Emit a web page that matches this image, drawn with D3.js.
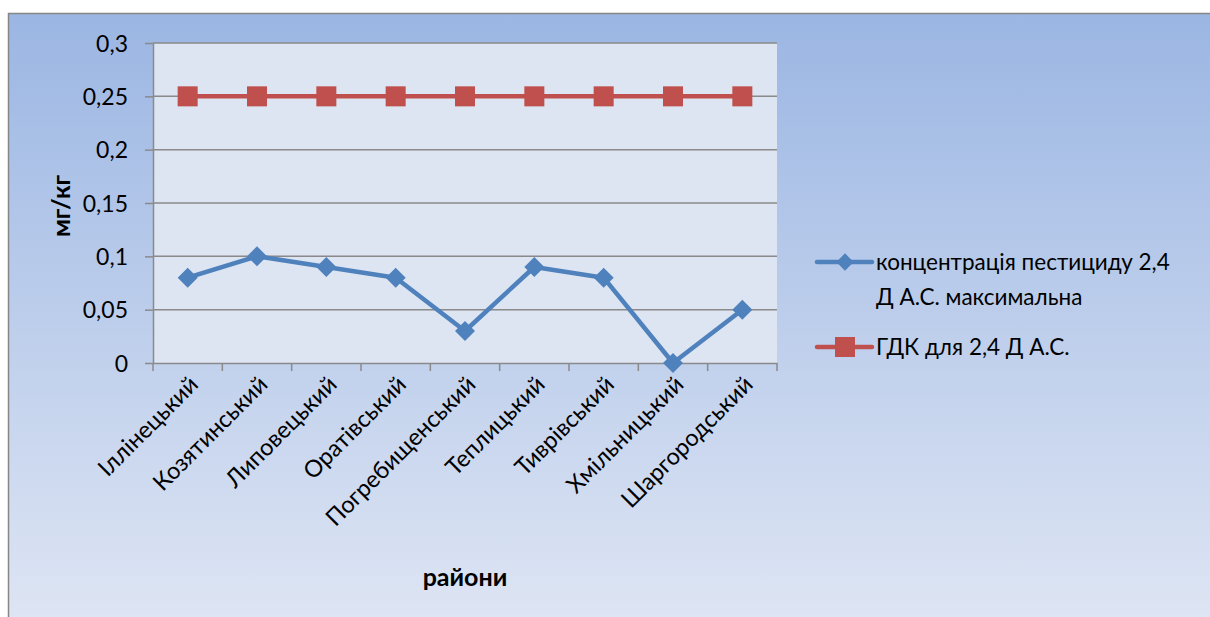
<!DOCTYPE html>
<html>
<head>
<meta charset="utf-8">
<script src="https://cdn.jsdelivr.net/npm/d3@7"></script>
<style>
  html, body { margin: 0; padding: 0; background: #ffffff; }
  svg { display: block; }
  text { font-family: Lato, "Open Sans", "Liberation Sans", sans-serif; fill: #000; }
</style>
</head>
<body>
<svg id="chart" width="1210" height="617"></svg>
<script>
// Districts along the x axis
const districts = ["Іллінецький", "Козятинський", "Липовецький", "Оратівський",
  "Погребищенський", "Теплицький", "Тиврівський", "Хмільницький", "Шаргородський"];
// Maximum concentration of 2,4-D, mg/kg
const concentration = [0.08, 0.1, 0.09, 0.08, 0.03, 0.09, 0.08, 0, 0.05];
// Maximum permissible concentration for 2,4-D, mg/kg
const limitValues = [0.25, 0.25, 0.25, 0.25, 0.25, 0.25, 0.25, 0.25, 0.25];
const yTicks = [0, 0.05, 0.1, 0.15, 0.2, 0.25, 0.3];
const seriesNames = ["концентрація пестициду 2,4", "Д А.С. максимальна", "ГДК для 2,4 Д А.С."];

const svg = d3.select("#chart");
const W = 1210, H = 617;
const FONT = "Lato, 'Open Sans', sans-serif";

// Background gradient of the chart area
const defs = svg.append("defs");
const grad = defs.append("linearGradient").attr("id", "bg")
  .attr("x1", 0).attr("y1", 0).attr("x2", 0).attr("y2", 1);
grad.append("stop").attr("offset", "0%").attr("stop-color", "#9bb6e3");
grad.append("stop").attr("offset", "100%").attr("stop-color", "#dfe6f4");

svg.append("rect").attr("x", 8.5).attr("y", 13.5).attr("width", W).attr("height", H)
  .attr("fill", "url(#bg)").attr("stroke", "#868686").attr("stroke-width", 1.5);

const plot = { left: 153, right: 777, top: 43, bottom: 363 };

const x = d3.scaleBand().domain(districts).range([plot.left, plot.right]).padding(0);
const y = d3.scaleLinear().domain([0, 0.3]).range([plot.bottom, plot.top]);
const cx = d => x(d) + x.bandwidth() / 2;

// Plot area
svg.append("rect").attr("x", plot.left).attr("y", plot.top)
  .attr("width", plot.right - plot.left).attr("height", plot.bottom - plot.top)
  .attr("fill", "#dce5f1");

// Horizontal gridlines
svg.append("g").selectAll("line").data(yTicks.filter(t => t > 0)).join("line")
  .attr("x1", plot.left).attr("x2", plot.right)
  .attr("y1", d => y(d)).attr("y2", d => y(d))
  .attr("stroke", "#8a8a8a").attr("stroke-width", 1.5);

// Y axis
const fmt = d => String(+d.toFixed(2)).replace(".", ",");
const yAxis = svg.append("g").attr("transform", `translate(${plot.left},0)`)
  .call(d3.axisLeft(y).tickValues(yTicks).tickFormat(fmt).tickSize(8).tickSizeOuter(0));
yAxis.select(".domain").attr("stroke", "#8a8a8a").attr("stroke-width", 1.5);
yAxis.selectAll(".tick line").attr("stroke", "#8a8a8a").attr("stroke-width", 1.5);
yAxis.selectAll(".tick text").attr("x", -25).attr("dy", "0.36em").attr("font-size", 23)
  .attr("font-family", FONT).attr("fill", "#000");

// X axis
const xAxis = svg.append("g").attr("transform", `translate(0,${plot.bottom})`)
  .call(d3.axisBottom(x).tickSize(0).tickSizeOuter(0));
xAxis.select(".domain").attr("stroke", "#8a8a8a").attr("stroke-width", 1.5);
xAxis.selectAll(".tick line").remove();
// Category boundary ticks
svg.append("g").selectAll("line")
  .data(districts.concat([null])).join("line")
  .attr("x1", (d, i) => plot.left + i * x.bandwidth())
  .attr("x2", (d, i) => plot.left + i * x.bandwidth())
  .attr("y1", plot.bottom).attr("y2", plot.bottom + 8)
  .attr("stroke", "#8a8a8a").attr("stroke-width", 1.5);
xAxis.selectAll(".tick text")
  .attr("font-size", 23.5).attr("font-family", FONT).attr("fill", "#000")
  .attr("text-anchor", "end").attr("dy", 0).attr("y", 0)
  .attr("transform", "translate(12,23) rotate(-45)");

// Axis titles
svg.append("text").attr("transform", "translate(70,206) rotate(-90)")
  .attr("text-anchor", "middle").attr("font-weight", "bold").attr("font-size", 25)
  .text("мг/кг");
svg.append("text").attr("x", 465).attr("y", 586)
  .attr("text-anchor", "middle").attr("font-weight", "bold").attr("font-size", 25)
  .text("райони");

const blue = "#4f81bd", red = "#c0504d";
const line = d3.line().x((d, i) => cx(districts[i])).y(d => y(d));

// Limit series
svg.append("path").datum(limitValues).attr("d", line)
  .attr("fill", "none").attr("stroke", red).attr("stroke-width", 4.5);
svg.append("g").selectAll("rect").data(limitValues).join("rect")
  .attr("x", (d, i) => cx(districts[i]) - 10).attr("y", d => y(d) - 10)
  .attr("width", 20).attr("height", 20).attr("fill", red);

// Concentration series
svg.append("path").datum(concentration).attr("d", line)
  .attr("fill", "none").attr("stroke", blue).attr("stroke-width", 4.5)
  .attr("stroke-linejoin", "round");
svg.append("g").selectAll("path").data(concentration).join("path")
  .attr("transform", (d, i) => `translate(${cx(districts[i])},${y(d)}) rotate(45)`)
  .attr("d", d3.symbol().type(d3.symbolSquare).size(200)())
  .attr("fill", blue);

// Legend
const lg = svg.append("g");
lg.append("line").attr("x1", 817).attr("x2", 872).attr("y1", 262).attr("y2", 262)
  .attr("stroke", blue).attr("stroke-width", 4.5).attr("stroke-linecap", "round");
lg.append("path").attr("transform", "translate(845,262) rotate(45)")
  .attr("d", d3.symbol().type(d3.symbolSquare).size(150)()).attr("fill", blue);
lg.append("text").attr("x", 876).attr("y", 270).attr("font-size", 22.5).text(seriesNames[0]);
lg.append("text").attr("x", 876).attr("y", 305).attr("font-size", 22.5).text(seriesNames[1]);
lg.append("line").attr("x1", 817).attr("x2", 872).attr("y1", 347).attr("y2", 347)
  .attr("stroke", red).attr("stroke-width", 4.5).attr("stroke-linecap", "round");
lg.append("rect").attr("x", 835).attr("y", 337).attr("width", 20).attr("height", 20).attr("fill", red);
lg.append("text").attr("x", 876).attr("y", 355).attr("font-size", 22.5).text(seriesNames[2]);
</script>
</body>
</html>
